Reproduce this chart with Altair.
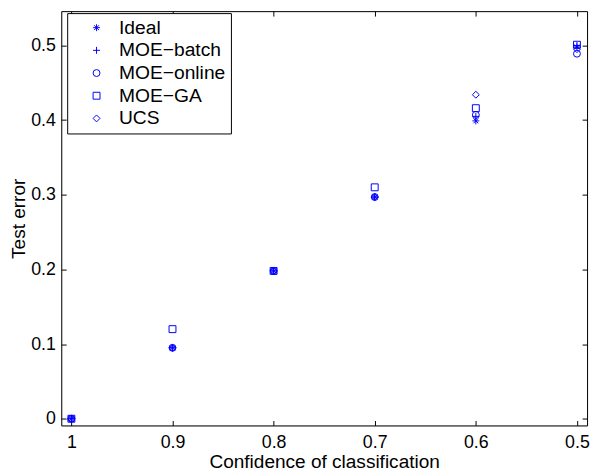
import altair as alt
import pandas as pd

confidence = [1.0, 0.9, 0.8, 0.7, 0.6, 0.5]
series_names = ["Ideal", "MOE−batch", "MOE−online", "MOE−GA", "UCS"]
ideal = [0.0, 0.095, 0.198, 0.297, 0.399, 0.498]
moe_batch = [0.0, 0.095, 0.198, 0.297, 0.405, 0.500]
moe_online = [0.0, 0.095, 0.198, 0.297, 0.407, 0.489]
moe_ga = [0.0, 0.120, 0.198, 0.310, 0.416, 0.501]
ucs = [0.0, 0.095, 0.198, 0.297, 0.434, 0.495]
x_ticks = [1.0, 0.9, 0.8, 0.7, 0.6, 0.5]
y_ticks = [0.0, 0.1, 0.2, 0.3, 0.4, 0.5]

series_values = [ideal, moe_batch, moe_online, moe_ga, ucs]
rows = []
for name, vals in zip(series_names, series_values):
    for c, v in zip(confidence, vals):
        rows.append({"series": name, "confidence": c, "error": v})
df = pd.DataFrame(rows)

asterisk = "M-1,0L1,0M0,-1L0,1M-0.7,-0.7L0.7,0.7M-0.7,0.7L0.7,-0.7"
plus = "M-1,0L1,0M0,-1L0,1"
shapes = [asterisk, plus, "circle", "square", "diamond"]
sizes = [49, 49, 49, 42, 64]

FONT = "Liberation Sans"
xscale = alt.Scale(domain=[0.49, 1.01], reverse=True, nice=False, zero=False)
yscale = alt.Scale(domain=[-0.009, 0.546], nice=False, zero=False)

inward = alt.ExprRef("-5")
common = dict(domainColor="black", tickColor="black", labelColor="black", titleColor="black",
              labelFont=FONT, titleFont=FONT, labelFontSize=18, titleFontSize=19.3,
              titleFontWeight="normal", domainWidth=1, tickWidth=1, grid=False,
              tickSize=inward)

points = alt.Chart(df).mark_point(filled=False, strokeWidth=1, opacity=1).encode(
    x=alt.X("confidence:Q", scale=xscale,
            axis=alt.Axis(orient="bottom", values=x_ticks, format="~g",
                          title="Confidence of classification",
                          labelPadding=13, titlePadding=2, **common)),
    y=alt.Y("error:Q", scale=yscale,
            axis=alt.Axis(orient="left", values=y_ticks, format="~g",
                          title="Test error",
                          labelPadding=11, titlePadding=2, **common)),
    color=alt.Color("series:N", scale=alt.Scale(domain=series_names, range=["#0000ff"] * 5),
                    legend=alt.Legend(orient="none", legendX=6, legendY=2, title=None,
                                      strokeColor="black", fillColor="white", padding=5,
                                      labelFont=FONT, labelFontSize=19.5, labelColor="black",
                                      rowPadding=2, symbolOffset=15, labelOffset=13,
                                      symbolStrokeWidth=1)),
    shape=alt.Shape("series:N", scale=alt.Scale(domain=series_names, range=shapes)),
    size=alt.Size("series:N", scale=alt.Scale(domain=series_names, range=sizes)),
)

mirror = alt.Chart(df).mark_point(opacity=0).encode(
    x=alt.X("confidence:Q", scale=xscale,
            axis=alt.Axis(orient="top", values=x_ticks, labels=False, title=None, **common)),
    y=alt.Y("error:Q", scale=yscale,
            axis=alt.Axis(orient="right", values=y_ticks, labels=False, title=None, **common)),
)

chart = alt.layer(points, mirror).resolve_axis(x="independent", y="independent").properties(
    width=533, height=420,
    autosize=alt.AutoSizeParams(type="none"),
    padding={"left": 54, "top": 0, "right": 4, "bottom": 44},
).configure_view(stroke="black", strokeWidth=1).configure(background="white")

chart.save("out.html", embed_options={"renderer": "svg", "actions": False})
